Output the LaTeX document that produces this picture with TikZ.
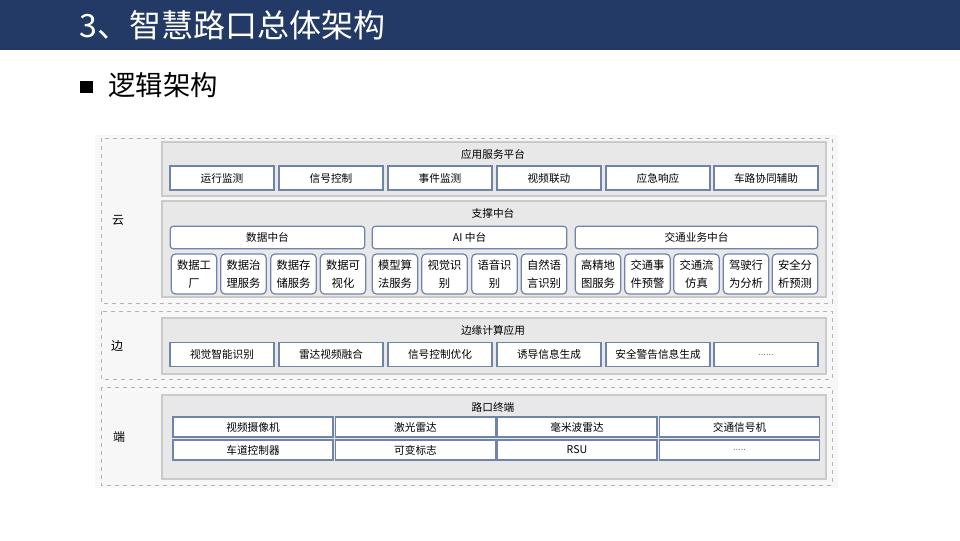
\documentclass[tikz,border=0pt]{standalone}
\usepackage{fontspec}
\setmainfont{Noto Sans CJK SC}
\definecolor{titlebar}{RGB}{36,58,102}
\definecolor{boxline}{RGB}{112,132,170}
\definecolor{panelfill}{RGB}{232,232,232}
\definecolor{panelline}{RGB}{202,202,202}
\definecolor{dashline}{RGB}{180,180,180}
\definecolor{areafill}{RGB}{247,247,247}
\tikzset{every picture/.style={line width=0.75pt}}
\tikzset{
  boxfont/.style={font=\fontsize{8}{10}\selectfont},
  appbox/.style={draw=boxline, fill=white, line width=1.2pt, inner sep=0pt, minimum width=78pt, minimum height=18pt, boxfont},
  midbox/.style={draw=boxline, fill=white, line width=0.9pt, rounded corners=2.5pt, inner sep=0pt, minimum height=17pt, boxfont},
  smallbox/.style={draw=boxline, fill=white, line width=0.9pt, rounded corners=3pt, inner sep=0pt, minimum width=34pt, minimum height=30pt, align=center, font=\fontsize{8.5}{13.5}\selectfont},
  termbox/.style={draw=boxline, fill=white, line width=1pt, inner sep=0pt, minimum width=120pt, minimum height=15pt, boxfont},
  paneltitle/.style={inner sep=0.75pt, boxfont},
  layerlabel/.style={inner sep=0.75pt, font=\fontsize{9}{11}\selectfont},
  layerbox/.style={draw=dashline, dashed, line width=0.75pt},
  panel/.style={draw=panelline, fill=panelfill, line width=0.9pt},
  dots/.style={text=gray, font=\fontsize{7}{8}\selectfont}
}

\begin{document}
\begin{tikzpicture}[x=0.75pt,y=0.75pt,yscale=-1,xscale=1]
\useasboundingbox (0,0) rectangle (960,540);

%Title bar
\fill [titlebar] (0,0) rectangle (960,50);
% Text Node
\node (title) [anchor=west, inner sep=0pt, text=white, font=\fontsize{24}{28}\selectfont] at (79,25) {3、智慧路口总体架构};
%Bullet
\fill (80,81) rectangle (93,93);
% Text Node
\node (subtitle) [anchor=west, inner sep=0pt, font=\fontsize{20.5}{24}\selectfont] at (108,85) {逻辑架构};

%Diagram area
\fill [areafill] (95,135) rectangle (838,488);
%Layers
\draw [layerbox] (101,138) rectangle (832,303);
\draw [layerbox] (101,311) rectangle (832,379);
\draw [layerbox] (101,387) rectangle (832,485);
% Text Node
\node (cloud) [layerlabel] at (118,220) {云};
\node (edge) [layerlabel] at (117,346) {边};
\node (term) [layerlabel] at (119,437) {端};

%Panels
\draw [panel] (162,142) rectangle (826,196);
\draw [panel] (162,201) rectangle (826,297);
\draw [panel] (162,318) rectangle (826,374);
\draw [panel] (162,395) rectangle (826,479);

% Text Node
\node (apptitle) [paneltitle] at (493,154) {应用服务平台};
\node (app1) [appbox] at (222,178) {运行监测};
\node (app2) [appbox] at (331,178) {信号控制};
\node (app3) [appbox] at (440,178) {事件监测};
\node (app4) [appbox] at (549,178) {视频联动};
\node (app5) [appbox] at (658,178) {应急响应};
\node (app6) [appbox] at (766,178) {车路协同辅助};

% Text Node
\node (suptitle) [paneltitle] at (493,213) {支撑中台};
\node (data) [midbox, minimum width=146pt] at (267.5,237.5) {数据中台};
\node (ai) [midbox, minimum width=146pt] at (469.5,237.5) {AI 中台};
\node (traffic) [midbox, minimum width=182pt] at (696.5,237.5) {交通业务中台};

\node (data1) [smallbox] at (194,274) {数据工\\厂};
\node (data2) [smallbox] at (243.5,274) {数据治\\理服务};
\node (data3) [smallbox] at (293.5,274) {数据存\\储服务};
\node (data4) [smallbox] at (343,274) {数据可\\视化};
\node (ai1) [smallbox] at (395,274) {模型算\\法服务};
\node (ai2) [smallbox] at (444.5,274) {视觉识\\别};
\node (ai3) [smallbox] at (494.5,274) {语音识\\别};
\node (ai4) [smallbox] at (544,274) {自然语\\言识别};
\node (traffic1) [smallbox] at (598,274) {高精地\\图服务};
\node (traffic2) [smallbox] at (647.5,274) {交通事\\件预警};
\node (traffic3) [smallbox] at (696.5,274) {交通流\\仿真};
\node (traffic4) [smallbox] at (746,274) {驾驶行\\为分析};
\node (traffic5) [smallbox] at (795,274) {安全分\\析预测};

% Text Node
\node (edgetitle) [paneltitle] at (493,330) {边缘计算应用};
\node (edge1) [appbox] at (222,354.5) {视觉智能识别};
\node (edge2) [appbox] at (331,354.5) {雷达视频融合};
\node (edge3) [appbox] at (440,354.5) {信号控制优化};
\node (edge4) [appbox] at (549,354.5) {诱导信息生成};
\node (edge5) [appbox] at (658,354.5) {安全警告信息生成};
\node (edge6) [appbox, dots] at (766,354.5) {......};

% Text Node
\node (termtitle) [paneltitle] at (493,407) {路口终端};
\node (term1) [termbox] at (253,427) {视频摄像机};
\node (term2) [termbox] at (415.5,427) {激光雷达};
\node (term3) [termbox] at (577,427) {毫米波雷达};
\node (term4) [termbox] at (739.5,427) {交通信号机};
\node (term5) [termbox] at (253,450) {车道控制器};
\node (term6) [termbox] at (415.5,450) {可变标志};
\node (term7) [termbox] at (577,450) {RSU};
\node (term8) [termbox, dots] at (739.5,450) {.....};

\end{tikzpicture}
\end{document}
